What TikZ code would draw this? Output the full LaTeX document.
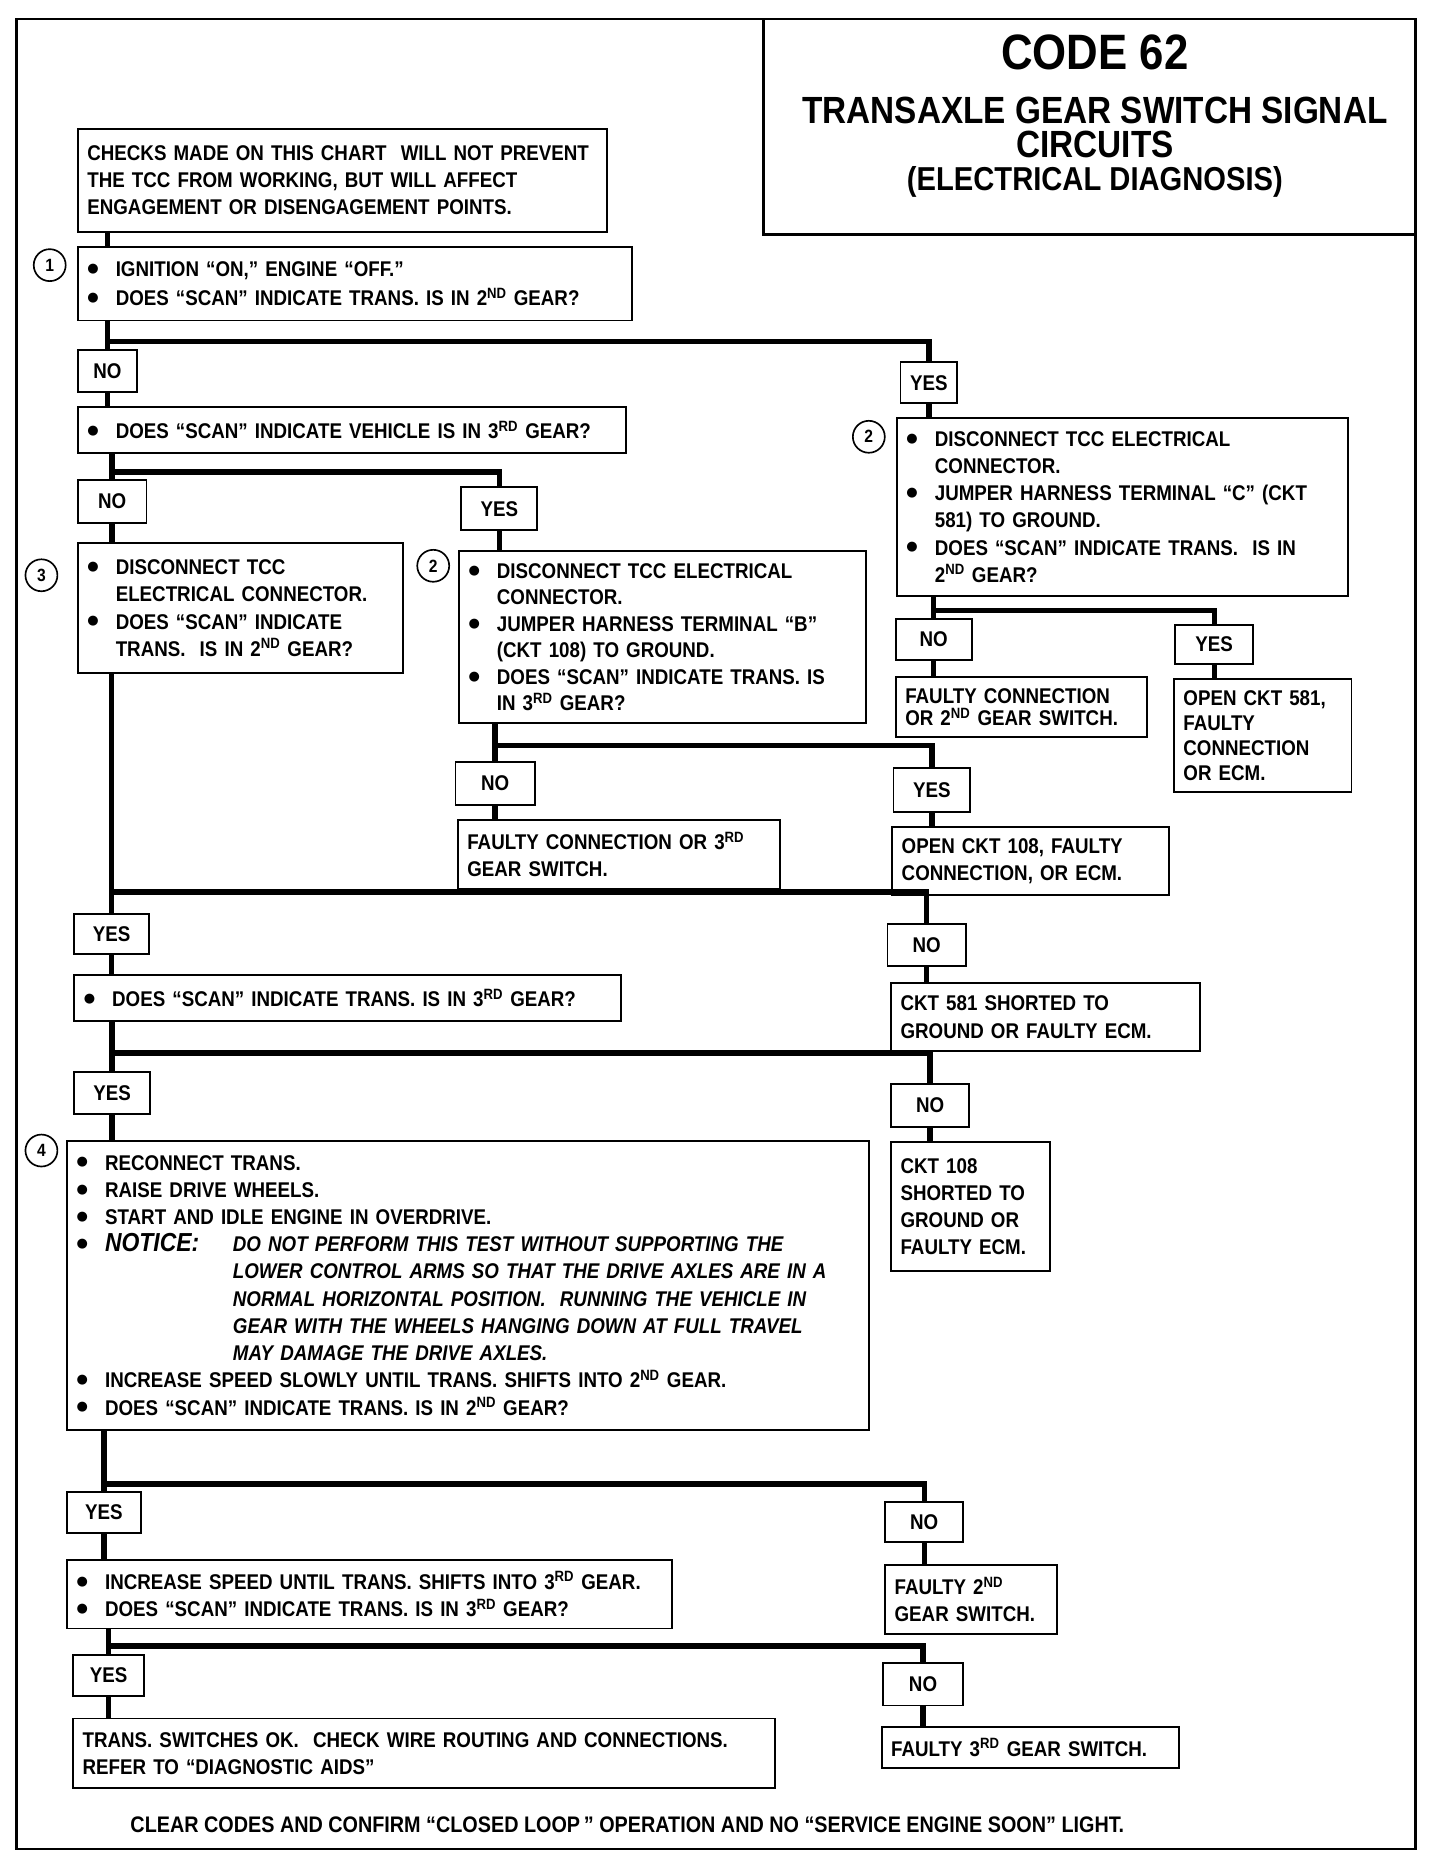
\documentclass[tikz,border=0pt]{standalone}
\usepackage{fontspec}
\setmainfont{Liberation Sans}[FakeStretch=0.88]
\newfontfamily\dotfont{DejaVu Sans}
\newcommand{\bitem}{\makebox[24pt][l]{\raisebox{3.5pt}{\dotfont\fontsize{11}{11}\selectfont ●}}}
\newcommand{\bgap}{\hspace*{24pt}}

\begin{document}
\begin{tikzpicture}[x=1pt, y=-1pt,
    every node/.style={font=\fontsize{18}{23}\selectfont\bfseries},
    box/.style={draw, line width=1.6pt, anchor=north west, align=left, inner xsep=8pt, inner ysep=2pt},
    tag/.style={draw, line width=1.6pt, anchor=north west, inner sep=0pt},
    num/.style={draw, circle, line width=1.4pt, minimum size=27pt, inner sep=0pt, font=\fontsize{15}{15}\selectfont\bfseries},
    link/.style={line width=4.6pt}]
    \useasboundingbox (0,0) rectangle (1217,1568);
    \draw[line width=2.4pt] (14,16) rectangle (1196,1562);
    \draw[line width=2pt] (645,16) |- (1196,198);
    \node[anchor=base, font=\fontsize{42}{42}\selectfont\bfseries] (code) at (925,59) {CODE 62};
    \node[anchor=base, font=\fontsize{32}{32}\selectfont\bfseries] (title) at (925,104) {TRANSAXLE GEAR SWITCH SIGNAL};
    \node[anchor=base, font=\fontsize{32}{32}\selectfont\bfseries] (titleb) at (925,133) {CIRCUITS};
    \node[anchor=base, font=\fontsize{28}{28}\selectfont\bfseries] (titlec) at (925,161) {(ELECTRICAL DIAGNOSIS)};

    \node[box, text width=431pt, minimum height=87pt] (note) at (65,108) {CHECKS MADE ON THIS CHART\ \ WILL NOT PREVENT\\THE TCC FROM WORKING, BUT WILL AFFECT\\ENGAGEMENT OR DISENGAGEMENT POINTS.};
    \node[box, text width=452pt, minimum height=62pt, font=\fontsize{18}{25}\selectfont\bfseries] (step1) at (65,208) {\bitem IGNITION ``ON,'' ENGINE ``OFF.''\\\bitem DOES ``SCAN'' INDICATE TRANS. IS IN 2\textsuperscript{ND} GEAR?};
    \node[num] (n1) at (42,224) {1};
    \node[tag, minimum width=50pt, minimum height=35pt] (no1) at (65,295) {NO};
    \node[tag, minimum width=48pt, minimum height=35pt] (yes1) at (760,305) {YES};
    \node[box, text width=447pt, minimum height=39pt] (q2) at (65,343) {\bitem DOES ``SCAN'' INDICATE VEHICLE IS IN 3\textsuperscript{RD} GEAR?};
    \node[tag, minimum width=58pt, minimum height=36pt] (no2) at (65,405) {NO};
    \node[tag, minimum width=64pt, minimum height=36pt] (yes2) at (389,411) {YES};

    \node[box, text width=259pt, minimum height=110pt] (s3) at (65,458) {\bitem DISCONNECT TCC\\\bgap ELECTRICAL CONNECTOR.\\\bitem DOES ``SCAN'' INDICATE\\\bgap TRANS.\ \ IS IN 2\textsuperscript{ND} GEAR?};
    \node[num] (n3) at (35,486) {3};
    \node[box, text width=328pt, minimum height=145pt, font=\fontsize{18}{22.4}\selectfont\bfseries] (s2a) at (387,465) {\bitem DISCONNECT TCC ELECTRICAL\\\bgap CONNECTOR.\\\bitem JUMPER HARNESS TERMINAL ``B''\\\bgap (CKT 108) TO GROUND.\\\bitem DOES ``SCAN'' INDICATE TRANS. IS\\\bgap IN 3\textsuperscript{RD} GEAR?};
    \node[num] (n2a) at (366,478) {2};
    \node[box, text width=365pt, minimum height=151pt] (s2b) at (757,352) {\bitem DISCONNECT TCC ELECTRICAL\\\bgap CONNECTOR.\\\bitem JUMPER HARNESS TERMINAL ``C'' (CKT\\\bgap 581) TO GROUND.\\\bitem DOES ``SCAN'' INDICATE TRANS.\ \ IS IN\\\bgap 2\textsuperscript{ND} GEAR?};
    \node[num] (n2b) at (734,369) {2};

    \node[tag, minimum width=64pt, minimum height=35pt] (no3) at (756,522) {NO};
    \node[tag, minimum width=66pt, minimum height=33pt] (yes3) at (992,527) {YES};
    \node[box, text width=196pt, minimum height=51pt, font=\fontsize{18}{19}\selectfont\bfseries] (r2nd) at (756,571) {FAULTY CONNECTION\\OR 2\textsuperscript{ND} GEAR SWITCH.};
    \node[box, text width=134pt, minimum height=95pt, font=\fontsize{18}{21}\selectfont\bfseries] (r581) at (991,573) {OPEN CKT 581,\\FAULTY\\CONNECTION\\OR ECM.};

    \node[tag, minimum width=67pt, minimum height=36pt] (no4) at (384,643) {NO};
    \node[tag, minimum width=65pt, minimum height=37pt] (yes4) at (754,648) {YES};
    \node[box, text width=256pt, minimum height=58pt] (r3rd) at (386,692) {FAULTY CONNECTION OR 3\textsuperscript{RD}\\GEAR SWITCH.};
    \node[box, text width=218pt, minimum height=57pt] (r108) at (753,698) {OPEN CKT 108, FAULTY\\CONNECTION, OR ECM.};

    \node[tag, minimum width=63pt, minimum height=34pt] (yes5) at (62,771) {YES};
    \node[tag, minimum width=66pt, minimum height=35pt] (no5) at (749,780) {NO};
    \node[box, text width=446pt, minimum height=39pt] (q3) at (62,823) {\bitem DOES ``SCAN'' INDICATE TRANS. IS IN 3\textsuperscript{RD} GEAR?};
    \node[box, text width=245pt, minimum height=57pt] (rs581) at (752,830) {CKT 581 SHORTED TO\\GROUND OR FAULTY ECM.};

    \node[tag, minimum width=64pt, minimum height=35pt] (yes6) at (62,905) {YES};
    \node[tag, minimum width=66pt, minimum height=36pt] (no6) at (752,915) {NO};
    \node[box, text width=118pt, minimum height=109pt] (rs108) at (752,964) {CKT 108\\SHORTED TO\\GROUND OR\\FAULTY ECM.};

    \node[box, text width=661pt, minimum height=244pt] (s4) at (56,963) {\bitem RECONNECT TRANS.\\
      \bitem RAISE DRIVE WHEELS.\\
      \bitem START AND IDLE ENGINE IN OVERDRIVE.\\
      \bitem\makebox[108pt][l]{\fontsize{22}{23}\selectfont\itshape NOTICE:}{\itshape DO NOT PERFORM THIS TEST WITHOUT SUPPORTING THE}\\
      \hspace*{132pt}{\itshape LOWER CONTROL ARMS SO THAT THE DRIVE AXLES ARE IN A}\\
      \hspace*{132pt}{\itshape NORMAL HORIZONTAL POSITION.\ \ RUNNING THE VEHICLE IN}\\
      \hspace*{132pt}{\itshape GEAR WITH THE WHEELS HANGING DOWN AT FULL TRAVEL}\\
      \hspace*{132pt}{\itshape MAY DAMAGE THE DRIVE AXLES.}\\
      \bitem INCREASE SPEED SLOWLY UNTIL TRANS. SHIFTS INTO 2\textsuperscript{ND} GEAR.\\
      \bitem DOES ``SCAN'' INDICATE TRANS. IS IN 2\textsuperscript{ND} GEAR?};
    \node[num] (n4) at (35,972) {4};

    \node[tag, minimum width=62pt, minimum height=34pt] (yes7) at (56,1260) {YES};
    \node[tag, minimum width=66pt, minimum height=34pt] (no7) at (747,1268) {NO};
    \node[box, text width=495pt, minimum height=58pt] (q5) at (56,1317) {\bitem INCREASE SPEED UNTIL TRANS. SHIFTS INTO 3\textsuperscript{RD} GEAR.\\\bitem DOES ``SCAN'' INDICATE TRANS. IS IN 3\textsuperscript{RD} GEAR?};
    \node[box, text width=129pt, minimum height=59pt] (r2sw) at (747,1321) {FAULTY 2\textsuperscript{ND}\\GEAR SWITCH.};

    \node[tag, minimum width=60pt, minimum height=35pt] (yes8) at (61,1397) {YES};
    \node[tag, minimum width=68pt, minimum height=36pt] (no8) at (745,1404) {NO};
    \node[box, text width=577pt, minimum height=59pt] (rok) at (61,1451) {TRANS. SWITCHES OK.\ \ CHECK WIRE ROUTING AND CONNECTIONS.\\REFER TO ``DIAGNOSTIC AIDS''};
    \node[box, text width=235pt, minimum height=35pt] (r3sw) at (744,1458) {FAULTY 3\textsuperscript{RD} GEAR SWITCH.};

    \node[anchor=base, font=\fontsize{19}{23}\selectfont\bfseries] (foot) at (530,1548) {CLEAR CODES AND CONFIRM ``CLOSED LOOP\,'' OPERATION AND NO ``SERVICE ENGINE SOON'' LIGHT.};

    % step 1
    \draw[link] (note.south -| no1.north) -- (step1.north -| no1.north);
    \draw[link] (step1.south -| no1.north) -- (no1.north);
    \draw[link] (step1.south -| no1.north) ++(0,17) -| (yes1.north);
    \draw[link] (no1.south) -- (no1.south |- q2.north);
    \draw[link] (yes1.south) -- (yes1.south |- s2b.north);
    % vehicle in 3rd
    \draw[link] (q2.south -| no2.north) -- (no2.north);
    \draw[link] (q2.south -| no2.north) ++(0,15) -| (yes2.north);
    \draw[link] (no2.south) -- (no2.south |- s3.north);
    \draw[link] (yes2.south) -- (yes2.south |- s2a.north);
    % right hand 2
    \draw[link] (s2b.south -| no3.north) -- (no3.north);
    \draw[link] (s2b.south -| no3.north) ++(0,11) -| (yes3.north);
    \draw[link] (no3.south) -- (no3.south |- r2nd.north);
    \draw[link] (yes3.south) -- (yes3.south |- r581.north);
    % middle 2
    \draw[link] (s2a.south -| no4.north) -- (no4.north);
    \draw[link] (s2a.south -| no4.north) ++(0,18) -| (yes4.north);
    \draw[link] (no4.south) -- (no4.south |- r3rd.north);
    \draw[link] (yes4.south) -- (yes4.south |- r108.north);
    % step 3
    \draw[link] (s3.south -| yes5.north) -- (yes5.north);
    \draw[link] (s3.south -| yes5.north) ++(0,184) -| (no5.north);
    \draw[link] (yes5.south) -- (yes5.south |- q3.north);
    \draw[link] (no5.south) -- (no5.south |- rs581.north);
    % trans in 3rd
    \draw[link] (q3.south -| yes6.north) -- (yes6.north);
    \draw[link] (q3.south -| yes6.north) ++(0,26) -| (no6.north);
    \draw[link] (yes6.south) -- (yes6.south |- s4.north);
    \draw[link] (no6.south) -- (no6.south |- rs108.north);
    % step 4
    \draw[link] (s4.south -| yes7.north) -- (yes7.north);
    \draw[link] (s4.south -| yes7.north) ++(0,45) -| (no7.north);
    \draw[link] (yes7.south) -- (yes7.south |- q5.north);
    \draw[link] (no7.south) -- (no7.south |- r2sw.north);
    % shift to 3rd
    \draw[link] (q5.south -| yes8.north) -- (yes8.north);
    \draw[link] (q5.south -| yes8.north) ++(0,14) -| (no8.north);
    \draw[link] (yes8.south) -- (yes8.south |- rok.north);
    \draw[link] (no8.south) -- (no8.south |- r3sw.north);
\end{tikzpicture}
\end{document}
